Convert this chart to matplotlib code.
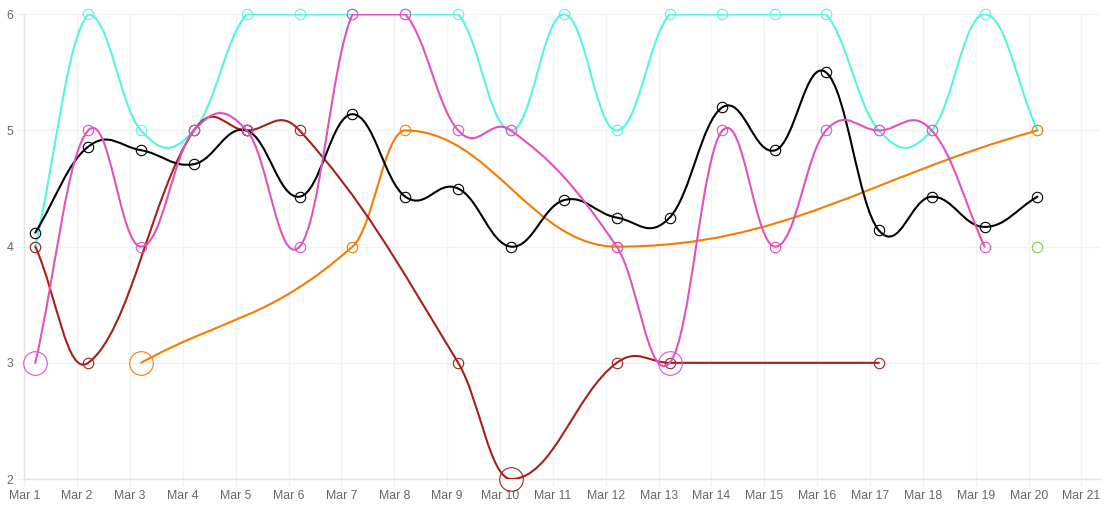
import datetime as dt
import matplotlib
matplotlib.use("Agg")
import matplotlib.pyplot as plt
import matplotlib.dates as mdates
from matplotlib.path import Path
from matplotlib.patches import PathPatch

# one reading a day, early morning
days = list(range(1, 21))
hours = [5] * 15 + [4] * 5
stamps = [dt.datetime(2024, 3, d, h) for d, h in zip(days, hours)]

cyan = [4, 6, 5, 5, 6, 6, 6, 6, 6, 5, 6, 5, 6, 6, 6, 6, 5, 5, 6, 5]
black = [4.12, 4.86, 4.83, 4.71, 5.0, 4.43, 5.14, 4.43, 4.5, 4.0,
         4.4, 4.25, 4.25, 5.2, 4.83, 5.5, 4.14, 4.43, 4.17, 4.43]
pink = [3, 5, 4, 5, 5, 4, 6, 6, 5, 5, None, 4, 3, 5, 4, 5, 5, 5, 4, None]
red = [4, 3, None, 5, 5, 5, None, None, 3, 2, None, 3, 3, None, None,
       None, 3, None, None, None]
orange = [None, None, 3, None, None, None, 4, 5, None, None, None, 4,
          None, None, None, None, None, None, None, 5]
green = [None] * 19 + [4]

# points drawn with the big circle
big = {"pink": [0, 12], "orange": [2], "red": [9]}

tick_labels = [f"Mar {d}" for d in range(1, 22)]

series = [
    ("cyan", cyan, "#55f5de"),
    ("green", green, "#8cc84b"),
    ("orange", orange, "#f57c00"),
    ("red", red, "#a81f1a"),
    ("black", black, "#000000"),
    ("pink", pink, "#df52bf"),
]

W, H = 1109, 507
fig = plt.figure(figsize=(W / 100, H / 100), dpi=100)
ax = fig.add_axes([24.3 / W, 1 - 479 / H, (1100 - 24.3) / W, (479 - 14.3) / H])

x0 = mdates.date2num(dt.datetime(2024, 3, 1))
xmax = x0 + 20.35
ax.set_xlim(x0, xmax)
ax.set_ylim(2, 6)


def cap(v, lo, hi):
    return max(lo, min(hi, v))


def spline(xs, ys, t=0.4):
    n = len(xs)
    cps = []
    for i in range(n):
        p = i - 1 if i > 0 else i
        q = i + 1 if i < n - 1 else i
        d01 = xs[i] - xs[p]
        d12 = xs[q] - xs[i]
        tot = d01 + d12
        s01 = d01 / tot if tot else 0
        s12 = d12 / tot if tot else 0
        vx = xs[q] - xs[p]
        vy = ys[q] - ys[p]
        before = (cap(xs[i] - t * s01 * vx, x0, xmax), cap(ys[i] - t * s01 * vy, 2, 6))
        after = (cap(xs[i] + t * s12 * vx, x0, xmax), cap(ys[i] + t * s12 * vy, 2, 6))
        cps.append((before, after))
    verts = [(xs[0], ys[0])]
    codes = [Path.MOVETO]
    for i in range(n - 1):
        verts += [cps[i][1], cps[i + 1][0], (xs[i + 1], ys[i + 1])]
        codes += [Path.CURVE4] * 3
    return Path(verts, codes)


for z, (name, vals, col) in enumerate(series):
    pts = [(mdates.date2num(s), v, i) for i, (s, v) in enumerate(zip(stamps, vals))
           if v is not None]
    xs = [p[0] for p in pts]
    ys = [p[1] for p in pts]
    if len(xs) > 1:
        ax.add_patch(PathPatch(spline(xs, ys), fill=False, edgecolor=col,
                               lw=1.5, zorder=3 + z, capstyle="round"))
    hl = big.get(name, [])
    sx = [p[0] for p in pts if p[2] not in hl]
    sy = [p[1] for p in pts if p[2] not in hl]
    ax.plot(sx, sy, ls="none", marker="o", ms=7.5, mfc="none", mec=col,
            mew=0.8, zorder=3 + z, clip_on=False)
    bx = [p[0] for p in pts if p[2] in hl]
    by = [p[1] for p in pts if p[2] in hl]
    ax.plot(bx, by, ls="none", marker="o", ms=17, mfc="none", mec=col,
            mew=0.8, zorder=3 + z, clip_on=False)

ticks = [x0 + k for k in range(21)]
ax.set_xticks(ticks)
ax.set_xticklabels(tick_labels)
ax.set_yticks([2, 3, 4, 5, 6])
ax.grid(True, color="#f2f2f2", lw=1)
ax.set_axisbelow(True)
for s in ["top", "right"]:
    ax.spines[s].set_visible(False)
for s in ["left", "bottom"]:
    ax.spines[s].set_color("#e4e4e4")
    ax.spines[s].set_linewidth(1)
ax.tick_params(axis="both", colors="#f0f0f0", labelcolor="#666666",
               labelsize=8.8, length=5, width=1)
ax.tick_params(axis="y", pad=3)
ax.tick_params(axis="x", pad=3)
for lab in ax.get_xticklabels() + ax.get_yticklabels():
    lab.set_family(["Liberation Sans", "DejaVu Sans"])

fig.savefig("out.png", dpi=100)
